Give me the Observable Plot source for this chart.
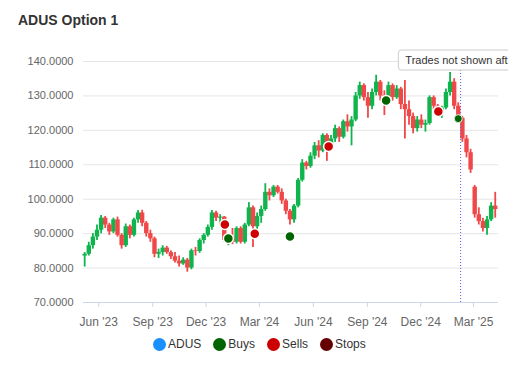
<!DOCTYPE html>
<html><head><meta charset="utf-8">
<script src="https://cdn.jsdelivr.net/npm/d3@7"></script>
<script src="https://cdn.jsdelivr.net/npm/@observablehq/plot@0.6"></script>
<style>
body{margin:0;background:#fff;font-family:"Liberation Sans",Arial,sans-serif;}
#wrap{position:relative;width:530px;height:380px;overflow:hidden;background:#fff;}
#title{position:absolute;left:18px;top:13px;font-size:14px;line-height:14px;font-weight:bold;color:#333;}
#chart{position:absolute;left:0;top:40px;width:508px;overflow:hidden;}
#legend{position:absolute;top:337.8px;left:152.5px;display:flex;align-items:center;font-size:12px;color:#333;height:13px;}
.item{display:flex;align-items:center;margin-right:11.5px;}
.sw{width:13px;height:13px;border-radius:50%;margin-right:2.5px;}
</style></head><body>
<div id="wrap"><div id="title">ADUS Option 1</div><div id="chart"></div><div id="legend"></div></div>
<script>
// ---- data (weekly candles) ----
const firstWeek = "2023-05-08";
const lastWeekEnd = "2025-04-08";
const opens = [83.5,84,86.5,89,91,94.5,92.5,90.5,94,89.5,86.5,92,89.5,94,96,93,90,88.5,84,84.5,85.8,84.5,83.3,82,81.2,82.3,80,85,84.8,88,89.5,91.8,96,94.5,
94.8,88,89,87.5,91.5,87.5,92.5,97.5,92,95,97,102,101,103.5,102,99.5,96.5,94,98,105.5,110.5,109.5,112.5,115.5,114,118.5,115,117.5,120.5,118,122.5,121,123,130,133,129.5,127,131,134,130,128.5,133,129.5,132,127.5,126,124,120.5,123,121.5,122,129.5,127,
125,126.5,131,134,127,123.5,117.5,113.5,103.5,95.5,93.5,91.5,94,98];
const highs = [84.5,87.5,90,92.5,95.3,95,93,94.5,94.8,90,92.8,92.5,94.5,96.7,96.8,93.5,91,89,85.5,86.5,86.3,85,84.5,83.5,83,82.8,85.5,86,88.5,90,92.5,96.7,96.5,95.5,
95,90,91.5,92,92,93,99,98,96,98,104.5,103,104,104,103,100,97,98.5,106,111.5,111,113.5,116.5,117,119,119,118.5,121.5,121,123,124.5,124,131,134,133.5,131,132,136,134.5,131.5,134,133.5,133,132.5,134.5,128.5,125,124,124.5,123,130,130,127.5,
127,132,136.8,135,128,124,118.5,114.5,104,97.5,94.5,95,99,102];
const lows = [80.3,83.5,85.5,88,90,91.5,89.5,90,89,85.5,86,88.5,89,93,92,89,87.5,83,82.8,83.5,84,82.5,81.5,80.3,80.8,78.8,79.5,83.5,84.3,87,89,91,93.5,92.5,
87.5,86.5,86.8,87,87,87,92,86,91,93,96.5,99.5,100.5,101.5,98.5,95.5,92.5,93,97.5,105,108.5,109,111.5,112,113.5,111,114.5,116.5,116.5,117.5,119.5,115.5,122.5,129,128.5,123.5,126,130,128.5,124.3,127.5,128.5,129,126,117.5,121.5,119,119.5,120.5,119.5,121.5,126,124,
123.5,126,130,126,122.5,116.5,112,107.5,94.5,92.5,90.5,89.5,93.5,94.5];
const closes = [84,86.5,89,91,94.5,92.5,90.5,94,89.5,86.5,92,89.5,94,96,93,90,88.5,84,84.5,85.8,84.5,83.3,82,81.2,82.3,80,85,84.8,88,89.5,91.8,96,94.5,94.8,
88,89,87.5,91.5,87.5,92.5,97.5,92,95,97,102,101,103.5,102,99.5,96.5,94,98,105.5,110.5,109.5,112.5,115.5,114,118.5,115,117.5,120.5,118,122.5,121,123,130,133,129.5,127,131,134,130,128.5,133,129.5,132,127.5,126,124,120.5,123,121.5,122,129.5,127,125,
126.5,131,134,127,123.5,117.5,113.5,108.5,95.5,93.5,91.5,94,98,97];

const buyDates = ["2024-01-08","2024-04-22","2024-10-03","2025-02-03"];
const buyPrices = [88.6,89.2,128.7,123.4];
const sellDates = ["2024-01-02","2024-02-22","2024-06-27","2024-12-31"];
const sellPrices = [92.65,90.0,115.3,125.5];

const cutoffDate = "2025-02-07";
const noteText = "Trades not shown after 2025-02-07";

const yTicks = [70,80,90,100,110,120,130,140];
const xTicks = ["2023-06-01","2023-09-01","2023-12-01","2024-03-01","2024-06-01","2024-09-01","2024-12-01","2025-03-01"];
const xDomain = ["2023-05-06T00:00Z","2025-04-12T14:00Z"];

const legendItems = [
  {name:"ADUS", color:"#1a90ff"},
  {name:"Buys", color:"#006400"},
  {name:"Sells", color:"#cc0000"},
  {name:"Stops", color:"#660000"}
];

// ---- build ----
const GREEN = "#0fb44d", RED = "#f04848";
const weeks = d3.utcMonday.range(new Date(firstWeek), new Date(lastWeekEnd));
const n = Math.min(weeks.length, opens.length, highs.length, lows.length, closes.length);
const candles = d3.range(n).map(i => ({date: weeks[i], open: opens[i], high: highs[i], low: lows[i], close: closes[i]}));
const up = candles.filter(d => d.close >= d.open);
const down = candles.filter(d => d.close < d.open);
const buys = buyDates.map((d,i) => ({date: new Date(d), price: buyPrices[i]}));
const sells = sellDates.map((d,i) => ({date: new Date(d), price: sellPrices[i]}));
const cutoff = new Date(cutoffDate);
const yMin = d3.min(yTicks), yMax = d3.max(yTicks);

const plot = Plot.plot({
  width: 508, height: 292,
  marginLeft: 83, marginRight: 10, marginTop: 21, marginBottom: 30,
  style: {fontFamily: "'Liberation Sans', Arial, sans-serif", background: "white"},
  x: {type: "utc", domain: xDomain.map(d => new Date(d))},
  y: {domain: [yMin, yMax]},
  marks: [
    Plot.gridY(yTicks, {stroke: "#e6e6e6", strokeOpacity: 1}),
    Plot.axisY(yTicks, {tickSize: 0, tickPadding: 10, tickFormat: d => d.toFixed(4), fontSize: 11, fill: "#666"}),
    Plot.ruleY([yMin], {stroke: "#ccd6eb"}),
    Plot.axisX(xTicks.map(d => new Date(d)), {tickSize: 5, tickPadding: 9.5, tickFormat: d3.utcFormat("%b '%y"), fontSize: 12, fill: "#666", stroke: "#ccd6eb"}),
    Plot.ruleX(up, {x: "date", y1: "low", y2: "high", stroke: GREEN, strokeWidth: 1.8}),
    Plot.ruleX(down, {x: "date", y1: "low", y2: "high", stroke: RED, strokeWidth: 1.8}),
    Plot.ruleX(up, {x: "date", y1: "open", y2: "close", stroke: GREEN, strokeWidth: 4.4}),
    Plot.ruleX(down, {x: "date", y1: "open", y2: "close", stroke: RED, strokeWidth: 4.4}),
    Plot.ruleX([cutoff], {y1: yMin, y2: yMax, stroke: "#5a5ae6", strokeDasharray: "1,2", strokeWidth: 1}),
    Plot.dot(buys.slice(0, -1), {x: "date", y: "price", r: 5, fill: "#006400", stroke: "white", strokeWidth: 1.5}),
    Plot.dot(buys.slice(-1), {x: "date", y: "price", r: 4, fill: "#006400", stroke: "#e8f5e8", strokeWidth: 1}),
    Plot.dot(sells, {x: "date", y: "price", r: 5, fill: "#cc0000", stroke: "white", strokeWidth: 1.5}),
    Plot.text([{date: cutoff, y: yMax, text: noteText}], {x: "date", y: "y", text: "text", textAnchor: "start", dx: -55.3, dy: -1, fontSize: 11, fill: "#333", className: "note"})
  ]
});
document.getElementById("chart").appendChild(plot);

// white label box behind the note text
const t = plot.querySelector("g.note text");
if (t) {
  const bb = t.getBBox();
  const r = document.createElementNS("http://www.w3.org/2000/svg", "rect");
  r.setAttribute("x", bb.x - 7);
  r.setAttribute("y", bb.y + bb.height / 2 - 10);
  r.setAttribute("width", bb.width + 14);
  r.setAttribute("height", 20);
  r.setAttribute("rx", 3);
  r.setAttribute("fill", "white");
  r.setAttribute("stroke", "#cccccc");
  const tr = t.getAttribute("transform");
  if (tr) r.setAttribute("transform", tr);
  t.parentNode.insertBefore(r, t);
}

// legend
const lg = document.getElementById("legend");
legendItems.forEach(it => {
  const d = document.createElement("div"); d.className = "item";
  const s = document.createElement("div"); s.className = "sw"; s.style.background = it.color;
  const tx = document.createElement("span"); tx.textContent = it.name;
  d.appendChild(s); d.appendChild(tx); lg.appendChild(d);
});
</script>
</body></html>
